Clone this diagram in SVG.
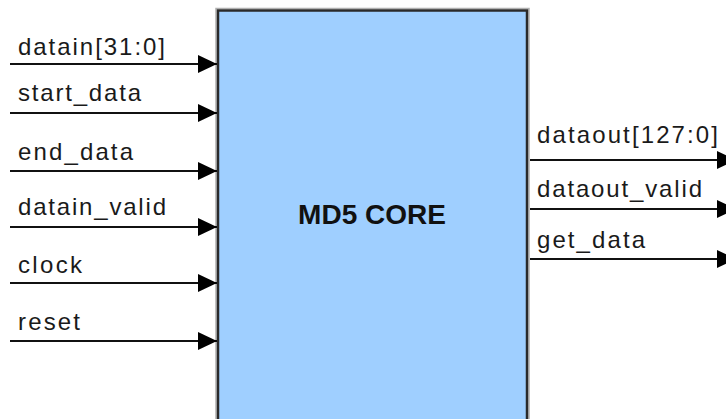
<svg xmlns="http://www.w3.org/2000/svg" width="726" height="419" viewBox="0 0 726 419">
<style>
.lbl{font-family:"Liberation Sans",Arial,sans-serif;font-size:24px;fill:#1a1a1a}
.core{font-family:"Liberation Sans",Arial,sans-serif;font-size:28px;font-weight:bold;fill:#111}
.wire{stroke:#111;stroke-width:2;fill:none;marker-end:url(#arr)}
</style>
<defs>
<marker id="arr" markerUnits="userSpaceOnUse" markerWidth="20" markerHeight="20" refX="19" refY="9" orient="auto" viewBox="0 0 20 18">
<path d="M0,0 L19,9 L0,18 Z" fill="#000"/>
</marker>
</defs>
<rect width="726" height="419" fill="#fff"/>
<g id="core">
<rect x="216" y="8.5" width="313" height="420" fill="none" stroke="#b0b0b0" stroke-width="1.5"/>
<rect x="218" y="10.5" width="309" height="420" fill="#9fcfff" stroke="#2a2a2a" stroke-width="2.5"/>
<text class="core" x="372" y="224" text-anchor="middle">MD5 CORE</text>
</g>
<g id="connectors">
<line class="wire" x1="10" y1="64" x2="217" y2="64"/>
<line class="wire" x1="10" y1="113" x2="217" y2="113"/>
<line class="wire" x1="10" y1="171" x2="217" y2="171"/>
<line class="wire" x1="10" y1="227" x2="217" y2="227"/>
<line class="wire" x1="10" y1="283" x2="217" y2="283"/>
<line class="wire" x1="10" y1="341" x2="217" y2="341"/>
<line class="wire" x1="530" y1="160" x2="736" y2="160"/>
<line class="wire" x1="530" y1="209" x2="736" y2="209"/>
<line class="wire" x1="530" y1="259" x2="736" y2="259"/>
</g>
<g id="in_datain"><text class="lbl" x="18" y="55" textLength="147" lengthAdjust="spacing">datain[31:0]</text></g>
<g id="in_start_data"><text class="lbl" x="18" y="101" textLength="123" lengthAdjust="spacing">start_data</text></g>
<g id="in_end_data"><text class="lbl" x="18" y="160" textLength="115" lengthAdjust="spacing">end_data</text></g>
<g id="in_datain_valid"><text class="lbl" x="18" y="215" textLength="148" lengthAdjust="spacing">datain_valid</text></g>
<g id="in_clock"><text class="lbl" x="18" y="273" textLength="64" lengthAdjust="spacing">clock</text></g>
<g id="in_reset"><text class="lbl" x="18" y="330" textLength="62" lengthAdjust="spacing">reset</text></g>
<g id="out_dataout"><text class="lbl" x="537" y="143" textLength="181" lengthAdjust="spacing">dataout[127:0]</text></g>
<g id="out_dataout_valid"><text class="lbl" x="537" y="197" textLength="165" lengthAdjust="spacing">dataout_valid</text></g>
<g id="out_get_data"><text class="lbl" x="537" y="248" textLength="108" lengthAdjust="spacing">get_data</text></g>
</svg>
